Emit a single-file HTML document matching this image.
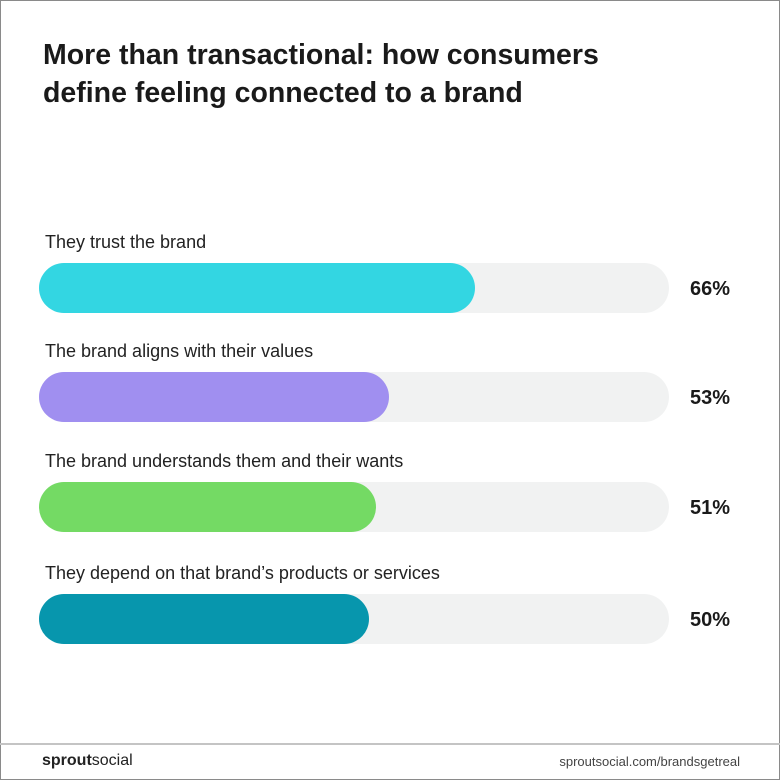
<!DOCTYPE html>
<html><head><meta charset="utf-8"><style>
body{margin:0;width:780px;height:780px;overflow:hidden;background:#fff;font-family:"Liberation Sans",sans-serif}
#frame{position:absolute;left:0;top:0;width:778px;height:778px;border:1px solid #8a8a8a}
h1{position:absolute;left:43px;top:36px;margin:0;font-size:28.5px;line-height:38px;font-weight:bold;color:#1a1a1a}
.lbl{position:absolute;left:45px;font-size:18px;color:#222}
.track{position:absolute;left:39px;width:630px;height:50px;border-radius:25px;background:#f1f2f2}
.fill{position:absolute;left:39px;height:50px;border-radius:25px}
.pct{position:absolute;left:690px;font-size:20px;font-weight:bold;color:#1a1a1a}
#rule{position:absolute;left:0;top:743px;width:780px;height:2px;background:#c4c4c4}
</style></head><body>
<div id="frame"></div>
<h1>More than transactional: how consumers<br>define feeling connected to a brand</h1>
<div id="chart"></div>
<div id="rule"></div>
<div style="position:absolute;left:42px;top:752px;font-size:16px;color:#222"><b>sprout</b>social</div>
<div style="position:absolute;right:40px;top:754px;font-size:13px;color:#444">sproutsocial.com/brandsgetreal</div>
<script>
const categories=["They trust the brand","The brand aligns with their values","The brand understands them and their wants","They depend on that brand\u2019s products or services"];
const values=[66,53,51,50];
const colors=["#33d6e2","#a08ff0","#74da64","#0796ad"];
const tops=[263,372,482,594];
const x=v=>v/100*660;
const c=document.getElementById('chart');
categories.forEach((cat,i)=>{
 const t=tops[i];
 const l=document.createElement('div');l.className='lbl';l.style.top=(t-31)+'px';l.textContent=cat;
 
 
 c.appendChild(l);
 const tr=document.createElement('div');tr.className='track';tr.style.top=t+'px';
 
 
 c.appendChild(tr);
 const f=document.createElement('div');f.className='fill';f.style.top=t+'px';f.style.width=x(values[i])+'px';f.style.background=colors[i];
 
 
 c.appendChild(f);
 const p=document.createElement('div');p.className='pct';p.style.top=(t+15)+'px';p.textContent=values[i]+'%';
 
 
 c.appendChild(p);
});
</script>
</body></html>
